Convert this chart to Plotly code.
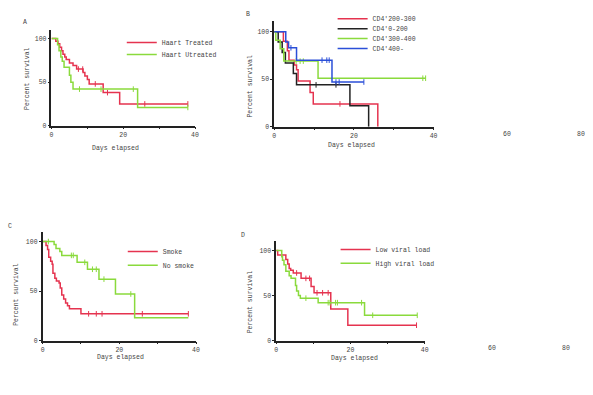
import plotly.graph_objects as go

W, H = 593, 395

# ---------------- data ----------------
# Panel A
A_treated_t = [0, 1.2, 1.8, 2.3, 2.8, 3.2, 3.7, 4.1, 5, 6, 7, 8.8, 9.3, 10, 10.5, 14.4, 19, 38]
A_treated_s = [100, 97, 94, 90, 86, 82, 79, 76, 72, 69, 65, 61, 57, 53, 48, 38, 25, 25]
A_treated_c = [7.5, 8.7, 12.2, 15.6, 26, 38]
A_untreated_t = [0, 1.7, 2.1, 2.6, 3, 3.5, 5, 5.4, 6, 24, 38]
A_untreated_s = [100, 93, 86, 79, 74, 67, 58, 50, 42, 21, 21]
A_untreated_c = [7.8, 13.8, 22.8, 38]

# Panel B
B_200_300_t = [0, 2.3, 3.3, 3.7, 5, 5.6, 6, 9, 9.8, 26]
B_200_300_s = [100, 90, 80, 70, 65, 60, 48, 36, 24, 0]
B_200_300_c = [16.5]
B_0_200_t = [0, 1, 2, 2.8, 4.8, 5.6, 19, 23.7]
B_0_200_s = [100, 89, 78, 67, 56, 44, 22, 0]
B_0_200_c = [10.5, 15.5]
B_300_400_t = [0, 0.4, 1.5, 2.4, 11, 38]
B_300_400_s = [100, 91, 82, 69, 51, 51]
B_300_400_c = [5.5, 6.5, 7.3, 37.3, 38]
B_400_t = [0, 2.9, 3.6, 5.6, 14.5, 22.5]
B_400_s = [100, 89, 83, 70, 47, 47]
B_400_c = [4.2, 12, 13.2, 13.8, 15.5, 16.3, 22.5]

# Panel C
C_smoke_t = [0, 0.9, 1.3, 1.6, 2.1, 2.5, 2.7, 3.2, 3.6, 4.3, 4.6, 5, 5.5, 6, 6.5, 7, 10, 38]
C_smoke_s = [100, 96, 92, 84, 80, 77, 68, 63, 60, 58, 53, 46, 42, 38, 35, 32, 27, 27]
C_smoke_c = [12, 14, 15.5, 26, 38]
C_nosmoke_t = [0, 3, 3.5, 4.5, 5, 9, 11.7, 14.7, 19, 24, 38]
C_nosmoke_s = [100, 97, 93, 90, 86, 79, 72, 62, 47, 23, 23]
C_nosmoke_c = [1.5, 7.5, 8, 11, 13, 14, 16, 23]

# Panel D
D_low_t = [0, 0.4, 2.6, 3.1, 3.5, 3.9, 4.6, 6.7, 9.4, 10.2, 14.7, 19.3, 37.8]
D_low_s = [100, 95, 90, 85, 80, 78, 75, 69, 60, 53, 35, 17, 17]
D_low_c = [5.5, 8, 9, 11, 12.5, 14, 37.8]
D_high_t = [0, 1.5, 1.7, 2.1, 2.6, 3.5, 4, 5.2, 5.5, 6, 6.5, 11.3, 23.8, 38]
D_high_s = [100, 93, 89, 84, 77, 72, 69, 61, 55, 50, 47, 42, 28, 28]
D_high_c = [8, 14, 14.5, 16, 16.5, 23, 26, 38]

x_tickvals = [0, 10, 20, 30, 40]
x_ticktext = ["0", "", "20", "", "40"]
y_tickvals = [0, 50, 100]
y_ticktext = ["0", "50", "100"]

RED = "#e5334f"
GREEN = "#8ada3c"
BLACK = "#222222"
BLUE = "#2b4fd8"
FONT = "Liberation Mono"
FS = 6.5
TXT = "#444"


def px(x):
    return x / W


def py(y):
    return 1 - y / H


def surv_at(t, s, c):
    sv = s[0]
    for ti, si in zip(t, s):
        if ti <= c:
            sv = si
    return sv


fig = go.Figure()


def add(t, s, c, name, color, ax, legend):
    fig.add_trace(go.Scatter(
        x=t, y=s, mode="lines", name=name, line=dict(color=color, width=1.5, shape="hv"),
        xaxis="x" + ax, yaxis="y" + ax, legend=legend, showlegend=True))
    fig.add_trace(go.Scatter(
        x=c, y=[surv_at(t, s, ci) for ci in c], mode="markers", name=name + " (censored)",
        marker=dict(symbol="line-ns", size=4, color=color, line=dict(color=color, width=1)),
        xaxis="x" + ax, yaxis="y" + ax, showlegend=False))


add(A_treated_t, A_treated_s, A_treated_c, "Haart Treated", RED, "", "legend")
add(A_untreated_t, A_untreated_s, A_untreated_c, "Haart Utreated", GREEN, "", "legend2")
add(B_200_300_t, B_200_300_s, B_200_300_c, "CD4'200-300", RED, "2", "legend3")
add(B_0_200_t, B_0_200_s, B_0_200_c, "CD4'0-200", BLACK, "2", "legend4")
add(B_300_400_t, B_300_400_s, B_300_400_c, "CD4'300-400", GREEN, "2", "legend5")
add(B_400_t, B_400_s, B_400_c, "CD4'400-", BLUE, "2", "legend6")
add(C_smoke_t, C_smoke_s, C_smoke_c, "Smoke", RED, "3", "legend7")
add(C_nosmoke_t, C_nosmoke_s, C_nosmoke_c, "No smoke", GREEN, "3", "legend8")
add(D_low_t, D_low_s, D_low_c, "Low viral load", RED, "4", "legend9")
add(D_high_t, D_high_s, D_high_c, "High viral load", GREEN, "4", "legend10")

panels = {
    "": dict(x0=50, x1=195, ybot=127, ytop=30.2, ymax=110),
    "2": dict(x0=275, x1=436, ybot=128, ytop=21.4, ymax=111),
    "3": dict(x0=41, x1=196, ybot=344, ytop=234, ymax=110),
    "4": dict(x0=277, x1=427, ybot=344, ytop=243, ymax=111),
}

axis_common = dict(showline=True, linecolor="#222", linewidth=1.5, ticks="outside", ticklen=2,
                   tickcolor="#222", tickwidth=1, showgrid=False, zeroline=False,
                   tickfont=dict(family=FONT, size=FS, color=TXT))

layout = {}
for k, p in panels.items():
    layout["xaxis" + k] = dict(axis_common, domain=[px(p["x0"]), px(p["x1"])], range=[0, 40],
                               tickvals=x_tickvals, ticktext=x_ticktext, anchor="y" + k)
    layout["yaxis" + k] = dict(axis_common, domain=[py(p["ybot"]), py(p["ytop"])], range=[0, p["ymax"]],
                               tickvals=y_tickvals, ticktext=y_ticktext, anchor="x" + k)

leg_pos = {
    "legend": (162, 43), "legend2": (162, 55),
    "legend3": (375, 19), "legend4": (375, 29), "legend5": (375, 39), "legend6": (375, 49),
    "legend7": (163, 254), "legend8": (163, 268),
    "legend9": (378, 252), "legend10": (378, 266),
}
for k, (tx, ty) in leg_pos.items():
    layout[k] = dict(x=px(tx - 41), y=py(ty), xanchor="left", yanchor="middle",
                     bgcolor="rgba(0,0,0,0)", font=dict(family=FONT, size=FS, color=TXT),
                     borderwidth=0)

ann = []


def text(x, y, s, angle=0):
    ann.append(dict(x=px(x), y=py(y), xref="paper", yref="paper", text=s, showarrow=False,
                    textangle=angle, font=dict(family=FONT, size=FS, color=TXT),
                    xanchor="center", yanchor="middle"))


text(23, 23, "A"); text(249, 15, "B"); text(8, 229, "C"); text(243, 238, "D")
text(25, 79, "Percent survival", -90); text(115, 150, "Days elapsed")
text(251, 87, "Percent survival", -90); text(353, 147, "Days elapsed")
text(15, 297, "Percent survival", -90); text(120, 361, "Days elapsed")
text(251, 305, "Percent survival", -90); text(356, 362, "Days elapsed")
text(510, 136, "60"); text(585, 136, "80")
text(495, 352, "60"); text(570, 352, "80")

fig.update_layout(width=W, height=H, margin=dict(l=0, r=0, t=0, b=0), paper_bgcolor="white",
                  plot_bgcolor="white", annotations=ann, **layout)

fig.write_html("out.html", config={"displayModeBar": False},
               post_script="document.body.style.margin='0';")
